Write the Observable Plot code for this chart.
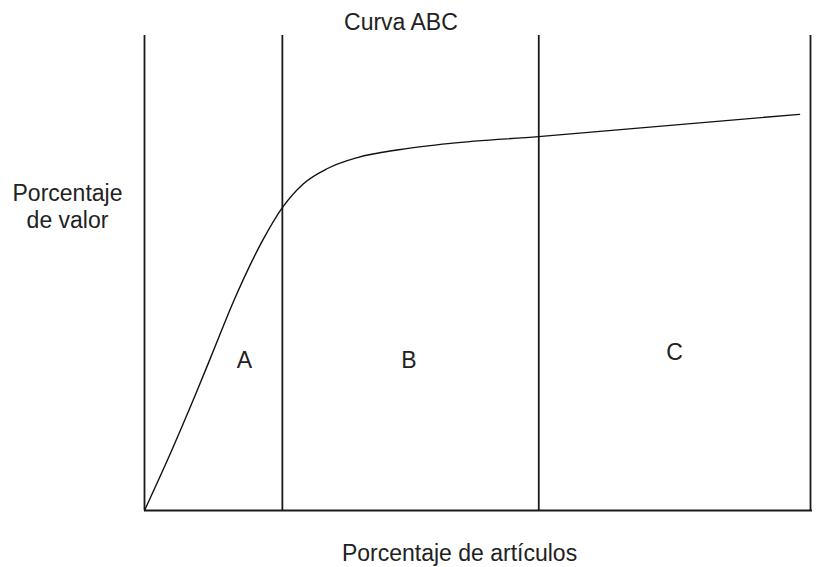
<!DOCTYPE html>
<html>
<head>
<meta charset="utf-8">
<script src="https://cdn.jsdelivr.net/npm/d3@7"></script>
<script src="https://cdn.jsdelivr.net/npm/@observablehq/plot@0.6"></script>
<style>
  html, body { margin: 0; padding: 0; background: #fff; }
  #chart svg { display: block; }
</style>
</head>
<body>
<div id="chart"></div>
<script>
// Cumulative % of articles (x) vs cumulative % of value (y)
const articlePct = [0, 3.9, 7.66, 10.51, 13.36, 17.72, 20.72, 23.87, 27.48, 31.98, 38.44, 45.95, 59.16, 98.35];
const valuePct   = [0, 12.05, 24.4, 34.2, 44.0, 56.8, 63.8, 68.8, 72.0, 74.3, 76.0, 77.3, 78.7, 83.4];
// Class boundaries (% of articles)
const boundaries = [0, 20.7, 59.2, 100];
const classes = ["A", "B", "C"];
const title = "Curva ABC";
const xLabel = "Porcentaje de artículos";
const yLabel = "Porcentaje\nde valor";

const curve = articlePct.map((x, i) => ({x, y: valuePct[i]}));
const classLabels = [
  {label: classes[0], x: 15.0, y: 31.6},
  {label: classes[1], x: 39.7, y: 31.6},
  {label: classes[2], x: 79.6, y: 33.3}
];

const font = "Liberation Sans, Arial, sans-serif";
const textColor = "#222";
const fs = 23;

const chart = Plot.plot({
  width: 819,
  height: 567,
  marginLeft: 144,
  marginRight: 9,
  marginTop: 35,
  marginBottom: 57,
  x: {domain: [0, 100], axis: null},
  y: {domain: [0, 100], axis: null},
  style: {fontFamily: font, background: "#fff"},
  marks: [
    Plot.ruleX(boundaries, {y1: 0, y2: 100, stroke: "#1a1a1a", strokeWidth: 1.8}),
    Plot.ruleY([0], {stroke: "#1a1a1a", strokeWidth: 2, x1: 0, x2: 100.3}),
    Plot.line(curve, {x: "x", y: "y", curve: "monotone-x", stroke: "#111", strokeWidth: 1.4}),
    Plot.text(classLabels, {x: "x", y: "y", text: "label", fontSize: fs, fill: textColor}),
    Plot.text([title], {frameAnchor: "top", lineAnchor: "middle", x: 38.5, dy: -12.4, fontSize: fs, fill: textColor}),
    Plot.text([xLabel], {frameAnchor: "bottom", lineAnchor: "middle", x: 47.3, dy: 43.5, fontSize: fs, fill: textColor}),
    Plot.text([yLabel], {frameAnchor: "left", textAnchor: "middle", y: 64.2, dx: -77, fontSize: fs, lineHeight: 1.17, fill: textColor})
  ]
});
document.getElementById("chart").append(chart);
</script>
</body>
</html>
